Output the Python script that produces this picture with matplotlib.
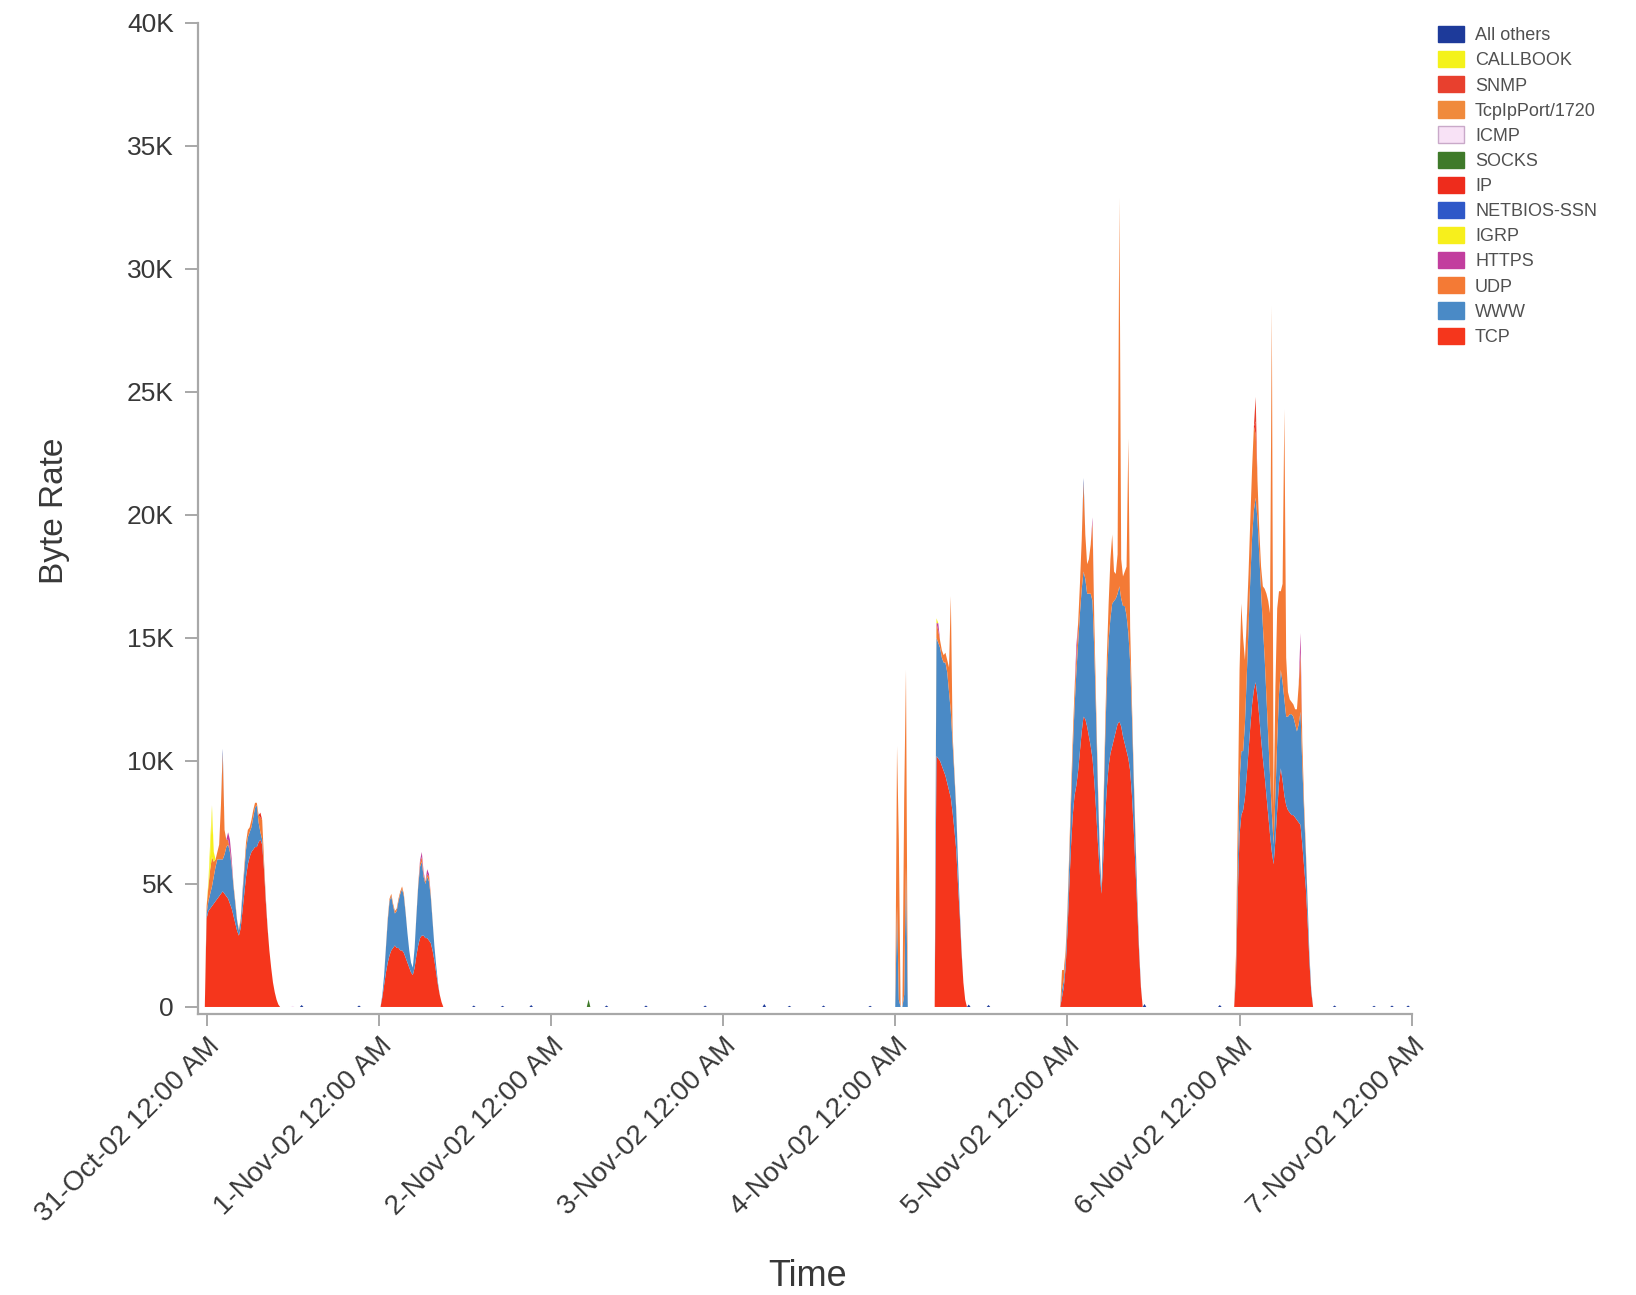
import numpy as np
import matplotlib
matplotlib.use("Agg")
import matplotlib.pyplot as plt
from matplotlib.patches import Patch

plt.rcParams['font.family'] = ['Liberation Sans', 'DejaVu Sans']

# ---------------- data (values in K bytes/s, time in hours from 31-Oct-02 00:00) ----------------
STEP = 0.25  # sampling interval in hours

series_names = ["TCP", "WWW", "UDP", "HTTPS", "IGRP", "NETBIOS-SSN", "IP", "SOCKS",
                "ICMP", "TcpIpPort/1720", "SNMP", "CALLBOOK", "All others"]
series_colors = ["#f5361c", "#4a8ac6", "#f47a35", "#c23e9e", "#f7ef1c", "#2f58c8", "#ee2c1c",
                 "#3f7a2a", "#f8e2f6", "#f08a3c", "#e8402e", "#f4f21a", "#1d3a9a"]

tick_labels = ["31-Oct-02 12:00 AM", "1-Nov-02 12:00 AM", "2-Nov-02 12:00 AM", "3-Nov-02 12:00 AM",
               "4-Nov-02 12:00 AM", "5-Nov-02 12:00 AM", "6-Nov-02 12:00 AM", "7-Nov-02 12:00 AM"]
tick_hours = [0, 24, 48, 72, 96, 120, 144, 168]

# burst 1 : 31-Oct
b1_start = -0.25
b1_tcp = [0, 3.6, 3.9, 4.0, 4.1, 4.2, 4.3, 4.4, 4.5, 4.6, 4.7, 4.6, 4.5, 4.4, 4.2, 4.0, 3.7, 3.4, 3.1, 2.9,
          3.2, 3.9, 4.6, 5.3, 5.8, 6.1, 6.3, 6.4, 6.5, 6.5, 6.7, 6.8, 6.6, 5.6, 4.3, 3.2, 2.3, 1.6, 1.0,
          0.6, 0.3, 0.1, 0]
b1_www = [0, 0.2, 0.4, 0.6, 0.8, 1.1, 1.4, 1.6, 1.5, 1.4, 1.3, 1.6, 2.0, 2.2, 2.1, 1.7, 1.2, 0.8, 0.4, 0.2,
          0.3, 0.6, 0.9, 1.1, 1.1, 1.0, 1.0, 1.3, 1.6, 1.7, 0.8, 0.3, 0.2, 0.1, 0.1, 0.05, 0, 0, 0,
          0, 0, 0, 0]
b1_udp = [0, 0.3, 0.6, 1.0, 1.2, 0.6, 0.3, 0.3, 0.6, 2.2, 4.3, 1.0, 0.3, 0.2, 0.1, 0.1, 0.1, 0.1, 0.05, 0.05,
          0.1, 0.1, 0.2, 0.3, 0.3, 0.2, 0.3, 0.3, 0.2, 0.1, 0.3, 0.6, 0.8, 0.3, 0.1, 0, 0, 0, 0,
          0, 0, 0, 0]

# burst 2 : 1-Nov
b2_start = 24.25
b2_tcp = [0, 0.4, 0.9, 1.4, 1.8, 2.1, 2.3, 2.4, 2.5, 2.4, 2.4, 2.3, 2.3, 2.2, 2.0, 1.8, 1.6, 1.4, 1.3,
          1.6, 2.1, 2.5, 2.8, 2.9, 2.9, 2.8, 2.8, 2.7, 2.6, 2.3, 1.9, 1.4, 0.9, 0.5, 0.2, 0]
b2_www = [0, 0.1, 0.4, 1.0, 1.7, 2.2, 2.2, 1.7, 1.3, 1.5, 1.9, 2.3, 2.5, 2.3, 1.8, 1.2, 0.7, 0.4, 0.3,
          0.8, 1.6, 2.4, 2.9, 3.0, 2.4, 2.2, 2.5, 2.4, 1.9, 1.2, 0.6, 0.3, 0.1, 0, 0, 0]
b2_udp = [0, 0, 0, 0.05, 0.1, 0.1, 0.1, 0.1, 0.1, 0.1, 0.1, 0.1, 0.1, 0.1, 0.05, 0, 0, 0, 0,
          0, 0.05, 0.1, 0.15, 0.2, 0.1, 0.1, 0.1, 0.2, 0.1, 0.05, 0, 0, 0, 0, 0, 0]

# burst 3a : two narrow spikes early 4-Nov
b3a_start = 96.0
b3a_tcp = [0, 0, 0, 0, 0, 0, 0, 0]
b3a_www = [0, 4.1, 0.3, 0, 0, 0.5, 5.7, 0]
b3a_udp = [0, 6.5, 6.5, 0, 0, 8.0, 8.0, 0]

# burst 3b : 4-Nov morning
b3b_start = 101.5
b3b_tcp = [0, 10.2, 10.1, 10.0, 9.8, 9.6, 9.4, 9.1, 8.8, 8.5, 7.9, 7.2, 6.4, 5.0, 3.7, 2.2, 1.0, 0.3, 0]
b3b_www = [0, 4.8, 4.7, 4.6, 4.4, 4.4, 4.6, 4.5, 4.0, 3.5, 2.8, 2.2, 1.6, 0.9, 0.3, 0.1, 0, 0, 0]
b3b_udp = [0, 0.6, 0.5, 0.3, 0.3, 0.3, 0.4, 0.5, 1.0, 4.7, 0.4, 0.2, 0.1, 0.05, 0, 0, 0, 0, 0]

# burst 4 : 5-Nov
b4_start = 119.0
b4_tcp = [0, 0.4, 0.8, 1.6, 3.0, 4.8, 6.5, 7.8, 8.6, 9.0, 9.6, 10.4, 11.2, 11.8, 11.7, 11.4, 11.0, 10.6,
          10.1, 9.2, 8.0, 6.7, 5.5, 4.6, 6.0, 7.6, 8.9, 9.8, 10.3, 10.6, 10.9, 11.2, 11.5, 11.6, 11.4,
          11.0, 10.7, 10.4, 10.1, 9.6, 8.6, 7.2, 5.6, 3.9, 2.2, 0.8, 0]
b4_www = [0, 0.3, 0.3, 0.4, 0.6, 1.0, 1.7, 2.6, 3.6, 4.6, 5.2, 5.6, 5.8, 5.9, 5.7, 5.4, 5.8, 6.2,
          6.4, 5.3, 3.8, 2.2, 0.9, 0.2, 1.5, 3.0, 4.3, 5.1, 5.5, 5.8, 5.6, 5.4, 5.3, 5.5, 5.2,
          5.3, 5.6, 5.5, 5.1, 4.4, 3.2, 2.0, 1.1, 0.5, 0.2, 0.05, 0]
b4_udp = [0, 0.8, 0.4, 0.3, 0.3, 0.4, 0.5, 0.6, 0.7, 0.6, 0.8, 1.2, 2.0, 3.6, 1.8, 1.2, 1.4, 2.0,
          3.2, 1.2, 0.6, 0.3, 0.1, 0.05, 0.3, 0.6, 1.0, 1.5, 2.4, 2.8, 1.2, 1.0, 1.6, 15.5, 1.6,
          1.2, 1.4, 2.0, 7.9, 1.4, 0.6, 0.3, 0.2, 0.1, 0, 0, 0]

# burst 5 : 6-Nov
b5_start = 143.25
b5_tcp = [0, 1.2, 4.5, 7.0, 7.8, 8.0, 8.5, 9.4, 10.4, 11.4, 12.3, 12.9, 13.2, 12.6, 11.8, 10.9, 10.1,
          9.4, 8.6, 7.8, 7.0, 6.3, 5.8, 6.8, 8.0, 9.1, 9.7, 9.2, 8.6, 8.2, 8.0, 7.9, 7.8, 7.8, 7.7,
          7.6, 7.5, 7.4, 6.6, 5.7, 4.8, 3.4, 1.8, 0.6, 0]
b5_www = [0, 0.3, 1.2, 2.2, 2.6, 2.4, 3.0, 4.0, 5.0, 6.0, 6.8, 7.3, 7.5, 7.2, 6.6, 6.0, 5.4,
          4.8, 4.0, 3.2, 2.4, 1.6, 0.8, 1.8, 2.8, 3.6, 4.0, 4.0, 3.9, 3.6, 3.8, 4.0, 4.1, 4.0, 3.8,
          3.6, 4.0, 4.6, 3.2, 2.2, 1.4, 0.7, 0.3, 0.1, 0]
b5_udp = [0, 0.6, 2.0, 4.5, 6.0, 4.6, 2.6, 2.2, 2.2, 2.4, 2.8, 3.4, 2.6, 1.6, 1.0, 1.0, 1.6,
          2.8, 4.2, 5.5, 6.6, 20.3, 1.4, 4.4, 5.4, 4.2, 3.2, 4.0, 11.8, 2.4, 1.0, 0.6, 0.5, 0.5, 0.6,
          0.9, 1.6, 2.4, 1.0, 0.4, 0.2, 0.1, 0, 0, 0]

# minor protocols: hour -> value (K)
https_pts = {3.0: 0.3, 3.25: 0.4, 3.5: 0.2, 29.75: 0.1, 30.0: 0.2, 30.25: 0.1, 30.75: 0.2, 31.0: 0.1,
             102.0: 0.3, 121.25: 0.5, 123.5: 0.2, 152.5: 0.8}
igrp_pts = {0.5: 0.6, 0.75: 1.8, 1.0: 0.4, 101.75: 0.2}
netbios_pts = {5.0: 0.1, 145.0: 0.1}
ip_pts = {146.25: 0.5, 7.5: 0.2}
socks_pts = {53.25: 0.3}
icmp_pts = {12.0: 0.05}
tcp1720_pts = {127.25: 0.3, 148.5: 0.3}
snmp_pts = {146.25: 1.0}
callbook_pts = {0.25: 0.2, 0.5: 0.5, 0.75: 0.3}
others_pts = {2.25: 0.2, 122.25: 0.2, 13.25: 0.08, 21.25: 0.06, 37.25: 0.06, 41.25: 0.05, 45.25: 0.08,
              55.75: 0.06, 61.25: 0.06, 69.5: 0.06, 77.75: 0.12, 81.25: 0.05, 86.0: 0.06, 92.5: 0.05,
              106.25: 0.1, 109.0: 0.08, 130.75: 0.12, 141.25: 0.08, 157.25: 0.06, 162.75: 0.05,
              165.25: 0.06, 167.5: 0.06}

# ---------------- assemble on the sampling grid ----------------
grid = np.round(np.arange(-1.0, 168.0 + STEP / 2, STEP), 4)


def idx_of(h):
    return int(round((h - grid[0]) / STEP))


def from_bursts(pairs):
    arr = np.zeros(len(grid))
    for start, vals in pairs:
        i0 = idx_of(start)
        arr[i0:i0 + len(vals)] = vals
    return arr * 1000


def from_points(d):
    arr = np.zeros(len(grid))
    for h, v in d.items():
        arr[idx_of(h)] = v
    return arr * 1000


tcp = from_bursts([(b1_start, b1_tcp), (b2_start, b2_tcp), (b3a_start, b3a_tcp), (b3b_start, b3b_tcp),
                   (b4_start, b4_tcp), (b5_start, b5_tcp)])
www = from_bursts([(b1_start, b1_www), (b2_start, b2_www), (b3a_start, b3a_www), (b3b_start, b3b_www),
                   (b4_start, b4_www), (b5_start, b5_www)])
udp = from_bursts([(b1_start, b1_udp), (b2_start, b2_udp), (b3a_start, b3a_udp), (b3b_start, b3b_udp),
                   (b4_start, b4_udp), (b5_start, b5_udp)])

stack = [tcp, www, udp, from_points(https_pts), from_points(igrp_pts), from_points(netbios_pts),
         from_points(ip_pts), from_points(socks_pts), from_points(icmp_pts), from_points(tcp1720_pts),
         from_points(snmp_pts), from_points(callbook_pts), from_points(others_pts)]

# ---------------- plot ----------------
fig = plt.figure(figsize=(16.36, 12.95), dpi=100)
ax = fig.add_axes([0.1212, 0.217, 0.7417, 0.7653])

ax.stackplot(grid, *stack, colors=series_colors, linewidth=0, edgecolor='none', antialiased=True)

ax.set_xlim(-1.16, 168)
ax.set_ylim(-285, 40000)

axis_col = '#a8a8a8'
for s in ['top', 'right']:
    ax.spines[s].set_visible(False)
for s in ['left', 'bottom']:
    ax.spines[s].set_color(axis_col)
    ax.spines[s].set_linewidth(1.6)

yt = list(range(0, 40001, 5000))
ax.set_yticks(yt)
ax.set_yticklabels(["0"] + [f"{v // 1000}K" for v in yt[1:]])
ax.set_xticks(tick_hours)
ax.set_xticklabels(tick_labels, rotation=45, ha='right', rotation_mode='anchor')

ax.tick_params(axis='y', length=9.5, width=1.4, color=axis_col, pad=8, labelsize=19, labelcolor='#383838')
ax.tick_params(axis='x', length=8.5, width=1.4, color=axis_col, pad=5, labelsize=20, labelcolor='#383838')

fig.text(55 / 1636, 1 - 511 / 1295, "Byte Rate", rotation=90, ha='center', va='center',
         fontsize=24, color='#383838')
fig.text(808 / 1636, 1 - 1277 / 1295, "Time", ha='center', va='center', fontsize=26, color='#383838')

# legend (top-most series first)
handles = []
for name, col in reversed(list(zip(series_names, series_colors))):
    ec = '#c9a9c9' if name == "ICMP" else col
    handles.append(Patch(facecolor=col, edgecolor=ec, linewidth=1.0, label=name))
fig.legend(handles=handles, loc='upper left', bbox_to_anchor=(1438 / 1636, 1 - 26 / 1295),
           frameon=False, fontsize=13, handlelength=1.45, handleheight=1.0, handletextpad=0.6,
           labelspacing=0.38, borderpad=0, borderaxespad=0, labelcolor='#505050')

fig.savefig("out.png", dpi=100)
